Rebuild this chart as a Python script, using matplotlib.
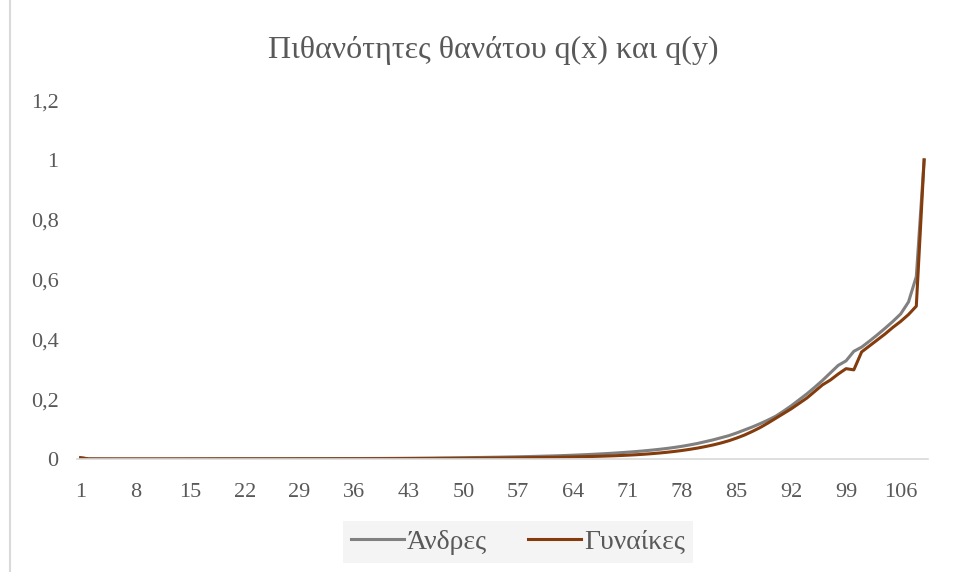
import matplotlib
matplotlib.use("Agg")
import matplotlib.pyplot as plt
from matplotlib.lines import Line2D

plt.rcParams['font.family'] = ['Liberation Serif', 'DejaVu Serif']

# ηλικίες (κατηγορίες 1..109)
ages = list(range(1, 110))

andres = [
    0.0045, 0.0003, 0.0002, 0.0002, 0.0001, 0.0001, 0.0001, 0.0001, 0.0001, 0.0001,
    0.0001, 0.0002, 0.0002, 0.0003, 0.0004, 0.0005, 0.0006, 0.0007, 0.0008, 0.0009,
    0.0010, 0.0010, 0.0010, 0.0010, 0.0010, 0.0010, 0.0010, 0.0010, 0.0011, 0.0011,
    0.0011, 0.0012, 0.0012, 0.0013, 0.0013, 0.0014, 0.0015, 0.0016, 0.0017, 0.0018,
    0.0020, 0.0022, 0.0024, 0.0026, 0.0028, 0.0030, 0.0033, 0.0036, 0.0039, 0.0042,
    0.0046, 0.0050, 0.0054, 0.0058, 0.0063, 0.0068, 0.0073, 0.0079, 0.0085, 0.0092,
    0.0099, 0.0107, 0.0116, 0.0126, 0.0137, 0.0149, 0.0162, 0.0176, 0.0191, 0.0208,
    0.0226, 0.0246, 0.0268, 0.0293, 0.0320, 0.0350, 0.0385, 0.0424, 0.0470, 0.0520,
    0.058, 0.064, 0.071, 0.078, 0.087, 0.097, 0.107, 0.118, 0.130, 0.143,
    0.160, 0.178, 0.198, 0.218, 0.240, 0.263, 0.288, 0.313, 0.328, 0.360,
    0.374, 0.394, 0.415, 0.437, 0.460, 0.485, 0.525, 0.610, 1.000,
]

gynaikes = [
    0.0040, 0.0003, 0.0002, 0.0001, 0.0001, 0.0001, 0.0001, 0.0001, 0.0001, 0.0001,
    0.0001, 0.0001, 0.0001, 0.0001, 0.0002, 0.0002, 0.0002, 0.0003, 0.0003, 0.0003,
    0.0003, 0.0003, 0.0003, 0.0003, 0.0004, 0.0004, 0.0004, 0.0004, 0.0005, 0.0005,
    0.0005, 0.0006, 0.0006, 0.0007, 0.0007, 0.0008, 0.0008, 0.0009, 0.0010, 0.0011,
    0.0012, 0.0013, 0.0014, 0.0015, 0.0016, 0.0017, 0.0019, 0.0020, 0.0022, 0.0024,
    0.0026, 0.0028, 0.0030, 0.0032, 0.0034, 0.0037, 0.0040, 0.0043, 0.0046, 0.0050,
    0.0054, 0.0058, 0.0063, 0.0068, 0.0074, 0.0080, 0.0087, 0.0095, 0.0104, 0.0114,
    0.0126, 0.0140, 0.0156, 0.0175, 0.0197, 0.0222, 0.0251, 0.0284, 0.0322, 0.0365,
    0.0415, 0.0470, 0.0535, 0.0610, 0.0700, 0.0800, 0.0920, 0.1050, 0.1200, 0.1360,
    0.152, 0.168, 0.186, 0.204, 0.226, 0.248, 0.264, 0.284, 0.302, 0.298,
    0.358, 0.378, 0.398, 0.418, 0.440, 0.460, 0.483, 0.511, 1.000,
]

xticks = ages[::7]
yticks = [0, 0.2, 0.4, 0.6, 0.8, 1, 1.2]
ylabels = ['0', '0,2', '0,4', '0,6', '0,8', '1', '1,2']

txt = '#595959'

fig = plt.figure(figsize=(9.59, 5.72), dpi=100)
ax = fig.add_axes([0.080, 0.1976, 0.8877, 0.6274])

ax.plot(ages, andres, color='#808080', lw=2.2, label='Άνδρες')
ax.plot(ages, gynaikes, color='#843c0c', lw=2.2, label='Γυναίκες')

ax.set_xlim(0.5, 109.5)
ax.set_ylim(0, 1.2)
ax.set_xticks(xticks)
ax.set_xticklabels([str(v) for v in xticks])
ax.set_yticks(yticks)
ax.set_yticklabels(ylabels)
ax.tick_params(length=0, labelsize=16, colors=txt)
ax.tick_params(axis='x', pad=17)
ax.tick_params(axis='y', pad=13)

for s in ['top', 'right', 'left']:
    ax.spines[s].set_visible(False)
ax.spines['bottom'].set_color('#d9d9d9')
ax.spines['bottom'].set_linewidth(1.2)

fig.text(0.514, 0.912, 'Πιθανότητες θανάτου q(x) και q(y)', ha='center', va='center',
         fontsize=23, color=txt)

leg = fig.legend(loc='center', bbox_to_anchor=(0.540, 0.052), ncol=2, fontsize=20,
                 frameon=True, fancybox=False, handlelength=1.9, columnspacing=1.5,
                 borderpad=0.3, borderaxespad=0, handletextpad=0.1)
leg.get_frame().set_facecolor('#f2f2f2')
leg.get_frame().set_edgecolor('none')
for t in leg.get_texts():
    t.set_color(txt)

# περίγραμμα αριστερά
fig.add_artist(Line2D([0.0105, 0.0105], [0, 1], color='#d9d9d9', lw=1.5,
                      transform=fig.transFigure))

fig.savefig('out.png', dpi=100, facecolor='white')
